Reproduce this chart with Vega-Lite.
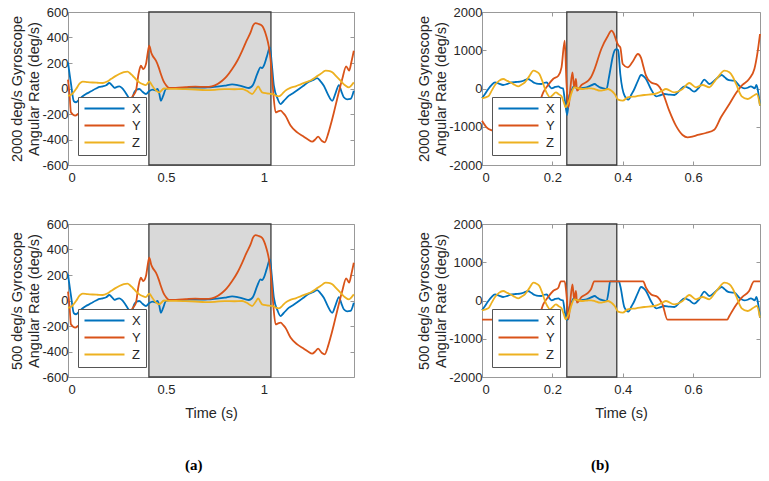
{
  "$schema": "https://vega.github.io/schema/vega-lite/v6.json",
  "padding": {"left": 9, "top": 5, "right": 5, "bottom": 5},
  "datasets": {
    "a": [
      {"s":"X","t":0,"v":205},{"s":"X","t":0.015,"v":40},{"s":"X","t":0.03,"v":-100},{"s":"X","t":0.041,"v":-108},{"s":"X","t":0.055,"v":-90},{"s":"X","t":0.075,"v":-61},{"s":"X","t":0.09,"v":-45},{"s":"X","t":0.109,"v":-30},{"s":"X","t":0.125,"v":-15},{"s":"X","t":0.143,"v":0},{"s":"X","t":0.16,"v":12},{"s":"X","t":0.177,"v":17},{"s":"X","t":0.195,"v":25},{"s":"X","t":0.211,"v":43},{"s":"X","t":0.225,"v":25},{"s":"X","t":0.236,"v":6},{"s":"X","t":0.25,"v":12},{"s":"X","t":0.262,"v":17},{"s":"X","t":0.275,"v":5},{"s":"X","t":0.287,"v":-17},{"s":"X","t":0.305,"v":-60},{"s":"X","t":0.321,"v":-96},{"s":"X","t":0.33,"v":-70},{"s":"X","t":0.338,"v":-30},{"s":"X","t":0.35,"v":-10},{"s":"X","t":0.364,"v":-4},{"s":"X","t":0.38,"v":-25},{"s":"X","t":0.398,"v":-43},{"s":"X","t":0.415,"v":-20},{"s":"X","t":0.432,"v":-9},{"s":"X","t":0.445,"v":-15},{"s":"X","t":0.457,"v":-4},{"s":"X","t":0.466,"v":-40},{"s":"X","t":0.474,"v":-96},{"s":"X","t":0.485,"v":-60},{"s":"X","t":0.5,"v":-4},{"s":"X","t":0.52,"v":3},{"s":"X","t":0.55,"v":3},{"s":"X","t":0.6,"v":5},{"s":"X","t":0.65,"v":8},{"s":"X","t":0.7,"v":7},{"s":"X","t":0.719,"v":9},{"s":"X","t":0.76,"v":14},{"s":"X","t":0.8,"v":22},{"s":"X","t":0.838,"v":33},{"s":"X","t":0.87,"v":25},{"s":"X","t":0.9,"v":12},{"s":"X","t":0.923,"v":4},{"s":"X","t":0.945,"v":30},{"s":"X","t":0.965,"v":110},{"s":"X","t":0.983,"v":166},{"s":"X","t":0.992,"v":160},{"s":"X","t":1.0,"v":180},{"s":"X","t":1.015,"v":250},{"s":"X","t":1.031,"v":323},{"s":"X","t":1.04,"v":200},{"s":"X","t":1.051,"v":22},{"s":"X","t":1.07,"v":-80},{"s":"X","t":1.085,"v":-122},{"s":"X","t":1.1,"v":-100},{"s":"X","t":1.128,"v":-56},{"s":"X","t":1.15,"v":-35},{"s":"X","t":1.179,"v":-4},{"s":"X","t":1.2,"v":20},{"s":"X","t":1.23,"v":54},{"s":"X","t":1.25,"v":65},{"s":"X","t":1.272,"v":82},{"s":"X","t":1.29,"v":55},{"s":"X","t":1.306,"v":22},{"s":"X","t":1.325,"v":-40},{"s":"X","t":1.349,"v":-96},{"s":"X","t":1.365,"v":-40},{"s":"X","t":1.383,"v":27},{"s":"X","t":1.395,"v":-20},{"s":"X","t":1.408,"v":-69},{"s":"X","t":1.425,"v":-85},{"s":"X","t":1.442,"v":-82},{"s":"X","t":1.459,"v":-17},
      {"s":"Y","t":0,"v":70},{"s":"Y","t":0.008,"v":-50},{"s":"Y","t":0.015,"v":-187},{"s":"Y","t":0.037,"v":-213},{"s":"Y","t":0.055,"v":-195},{"s":"Y","t":0.075,"v":-174},{"s":"Y","t":0.1,"v":-190},{"s":"Y","t":0.15,"v":-210},{"s":"Y","t":0.2,"v":-230},{"s":"Y","t":0.25,"v":-235},{"s":"Y","t":0.285,"v":-200},{"s":"Y","t":0.313,"v":-111},{"s":"Y","t":0.33,"v":-60},{"s":"Y","t":0.347,"v":-17},{"s":"Y","t":0.36,"v":114},{"s":"Y","t":0.372,"v":179},{"s":"Y","t":0.384,"v":153},{"s":"Y","t":0.398,"v":192},{"s":"Y","t":0.407,"v":280},{"s":"Y","t":0.415,"v":336},{"s":"Y","t":0.425,"v":280},{"s":"Y","t":0.432,"v":257},{"s":"Y","t":0.449,"v":218},{"s":"Y","t":0.462,"v":170},{"s":"Y","t":0.474,"v":114},{"s":"Y","t":0.487,"v":60},{"s":"Y","t":0.5,"v":27},{"s":"Y","t":0.517,"v":4},{"s":"Y","t":0.55,"v":5},{"s":"Y","t":0.6,"v":10},{"s":"Y","t":0.65,"v":15},{"s":"Y","t":0.7,"v":12},{"s":"Y","t":0.719,"v":13},{"s":"Y","t":0.75,"v":25},{"s":"Y","t":0.787,"v":61},{"s":"Y","t":0.81,"v":95},{"s":"Y","t":0.838,"v":153},{"s":"Y","t":0.865,"v":220},{"s":"Y","t":0.889,"v":296},{"s":"Y","t":0.91,"v":370},{"s":"Y","t":0.932,"v":440},{"s":"Y","t":0.945,"v":495},{"s":"Y","t":0.957,"v":513},{"s":"Y","t":0.975,"v":505},{"s":"Y","t":0.991,"v":492},{"s":"Y","t":1.002,"v":460},{"s":"Y","t":1.012,"v":414},{"s":"Y","t":1.025,"v":330},{"s":"Y","t":1.034,"v":231},{"s":"Y","t":1.045,"v":20},{"s":"Y","t":1.06,"v":-187},{"s":"Y","t":1.072,"v":-180},{"s":"Y","t":1.085,"v":-174},{"s":"Y","t":1.1,"v":-195},{"s":"Y","t":1.11,"v":-213},{"s":"Y","t":1.136,"v":-291},{"s":"Y","t":1.17,"v":-344},{"s":"Y","t":1.204,"v":-378},{"s":"Y","t":1.225,"v":-400},{"s":"Y","t":1.247,"v":-417},{"s":"Y","t":1.262,"v":-400},{"s":"Y","t":1.277,"v":-378},{"s":"Y","t":1.295,"v":-410},{"s":"Y","t":1.311,"v":-422},{"s":"Y","t":1.325,"v":-370},{"s":"Y","t":1.34,"v":-291},{"s":"Y","t":1.357,"v":-190},{"s":"Y","t":1.374,"v":-82},{"s":"Y","t":1.4,"v":74},{"s":"Y","t":1.42,"v":174},{"s":"Y","t":1.435,"v":140},{"s":"Y","t":1.447,"v":210},{"s":"Y","t":1.459,"v":296},
      {"s":"Z","t":0,"v":-57},{"s":"Z","t":0.02,"v":-45},{"s":"Z","t":0.041,"v":-4},{"s":"Z","t":0.06,"v":40},{"s":"Z","t":0.075,"v":54},{"s":"Z","t":0.1,"v":50},{"s":"Z","t":0.126,"v":47},{"s":"Z","t":0.15,"v":45},{"s":"Z","t":0.177,"v":43},{"s":"Z","t":0.2,"v":55},{"s":"Z","t":0.219,"v":74},{"s":"Z","t":0.24,"v":95},{"s":"Z","t":0.262,"v":114},{"s":"Z","t":0.285,"v":128},{"s":"Z","t":0.304,"v":132},{"s":"Z","t":0.318,"v":118},{"s":"Z","t":0.33,"v":100},{"s":"Z","t":0.347,"v":72},{"s":"Z","t":0.364,"v":48},{"s":"Z","t":0.38,"v":35},{"s":"Z","t":0.398,"v":27},{"s":"Z","t":0.415,"v":54},{"s":"Z","t":0.427,"v":30},{"s":"Z","t":0.44,"v":0},{"s":"Z","t":0.466,"v":-30},{"s":"Z","t":0.49,"v":0},{"s":"Z","t":0.52,"v":-3},{"s":"Z","t":0.55,"v":-3},{"s":"Z","t":0.6,"v":-5},{"s":"Z","t":0.65,"v":-8},{"s":"Z","t":0.7,"v":-12},{"s":"Z","t":0.75,"v":-10},{"s":"Z","t":0.8,"v":-5},{"s":"Z","t":0.85,"v":-6},{"s":"Z","t":0.889,"v":-4},{"s":"Z","t":0.915,"v":-20},{"s":"Z","t":0.94,"v":-43},{"s":"Z","t":0.958,"v":-10},{"s":"Z","t":0.971,"v":17},{"s":"Z","t":0.98,"v":-5},{"s":"Z","t":0.991,"v":-30},{"s":"Z","t":1.015,"v":-38},{"s":"Z","t":1.042,"v":-43},{"s":"Z","t":1.06,"v":-55},{"s":"Z","t":1.077,"v":-61},{"s":"Z","t":1.095,"v":-40},{"s":"Z","t":1.11,"v":-17},{"s":"Z","t":1.135,"v":5},{"s":"Z","t":1.162,"v":17},{"s":"Z","t":1.19,"v":35},{"s":"Z","t":1.213,"v":48},{"s":"Z","t":1.24,"v":65},{"s":"Z","t":1.264,"v":88},{"s":"Z","t":1.29,"v":115},{"s":"Z","t":1.315,"v":140},{"s":"Z","t":1.33,"v":138},{"s":"Z","t":1.349,"v":127},{"s":"Z","t":1.37,"v":95},{"s":"Z","t":1.391,"v":61},{"s":"Z","t":1.41,"v":30},{"s":"Z","t":1.434,"v":9},{"s":"Z","t":1.447,"v":25},{"s":"Z","t":1.459,"v":48}
    ],
    "b": [
      {"s":"X","t":0,"v":-257},{"s":"X","t":0.008,"v":-150},{"s":"X","t":0.018,"v":-13},{"s":"X","t":0.027,"v":90},{"s":"X","t":0.037,"v":162},{"s":"X","t":0.048,"v":130},{"s":"X","t":0.06,"v":92},{"s":"X","t":0.072,"v":120},{"s":"X","t":0.084,"v":162},{"s":"X","t":0.096,"v":170},{"s":"X","t":0.108,"v":178},{"s":"X","t":0.12,"v":210},{"s":"X","t":0.131,"v":248},{"s":"X","t":0.14,"v":200},{"s":"X","t":0.15,"v":144},{"s":"X","t":0.16,"v":120},{"s":"X","t":0.169,"v":118},{"s":"X","t":0.177,"v":150},{"s":"X","t":0.184,"v":162},{"s":"X","t":0.19,"v":80},{"s":"X","t":0.198,"v":5},{"s":"X","t":0.208,"v":40},{"s":"X","t":0.217,"v":57},{"s":"X","t":0.223,"v":20},{"s":"X","t":0.23,"v":5},{"s":"X","t":0.235,"v":-275},{"s":"X","t":0.242,"v":-693},{"s":"X","t":0.248,"v":-188},{"s":"X","t":0.254,"v":-57},{"s":"X","t":0.261,"v":57},{"s":"X","t":0.267,"v":20},{"s":"X","t":0.273,"v":5},{"s":"X","t":0.285,"v":15},{"s":"X","t":0.297,"v":31},{"s":"X","t":0.31,"v":80},{"s":"X","t":0.32,"v":118},{"s":"X","t":0.328,"v":70},{"s":"X","t":0.335,"v":31},{"s":"X","t":0.345,"v":5},{"s":"X","t":0.354,"v":-13},{"s":"X","t":0.36,"v":250},{"s":"X","t":0.365,"v":510},{"s":"X","t":0.372,"v":850},{"s":"X","t":0.378,"v":1010},{"s":"X","t":0.383,"v":1030},{"s":"X","t":0.387,"v":1000},{"s":"X","t":0.393,"v":379},{"s":"X","t":0.405,"v":-188},{"s":"X","t":0.416,"v":-292},{"s":"X","t":0.425,"v":-150},{"s":"X","t":0.433,"v":-13},{"s":"X","t":0.443,"v":200},{"s":"X","t":0.452,"v":353},{"s":"X","t":0.459,"v":320},{"s":"X","t":0.466,"v":248},{"s":"X","t":0.48,"v":-13},{"s":"X","t":0.495,"v":-204},{"s":"X","t":0.505,"v":-180},{"s":"X","t":0.518,"v":-144},{"s":"X","t":0.532,"v":-160},{"s":"X","t":0.547,"v":-170},{"s":"X","t":0.561,"v":-57},{"s":"X","t":0.575,"v":57},{"s":"X","t":0.589,"v":5},{"s":"X","t":0.603,"v":-83},{"s":"X","t":0.617,"v":31},{"s":"X","t":0.632,"v":231},{"s":"X","t":0.646,"v":118},{"s":"X","t":0.66,"v":205},{"s":"X","t":0.672,"v":300},{"s":"X","t":0.681,"v":353},{"s":"X","t":0.69,"v":290},{"s":"X","t":0.698,"v":231},{"s":"X","t":0.707,"v":210},{"s":"X","t":0.717,"v":205},{"s":"X","t":0.731,"v":74},{"s":"X","t":0.745,"v":5},{"s":"X","t":0.755,"v":20},{"s":"X","t":0.764,"v":57},{"s":"X","t":0.775,"v":5},{"s":"X","t":0.78,"v":92},{"s":"X","t":0.785,"v":-100},{"s":"X","t":0.79,"v":-449},
      {"s":"Y","t":0,"v":-841},{"s":"Y","t":0.013,"v":-1015},{"s":"Y","t":0.03,"v":-1102},{"s":"Y","t":0.05,"v":-1150},{"s":"Y","t":0.08,"v":-1120},{"s":"Y","t":0.11,"v":-950},{"s":"Y","t":0.13,"v":-760},{"s":"Y","t":0.147,"v":-600},{"s":"Y","t":0.16,"v":-449},{"s":"Y","t":0.174,"v":-100},{"s":"Y","t":0.188,"v":92},{"s":"Y","t":0.202,"v":248},{"s":"Y","t":0.217,"v":335},{"s":"Y","t":0.226,"v":554},{"s":"Y","t":0.235,"v":1250},{"s":"Y","t":0.24,"v":162},{"s":"Y","t":0.246,"v":-491},{"s":"Y","t":0.251,"v":-13},{"s":"Y","t":0.257,"v":423},{"s":"Y","t":0.262,"v":31},{"s":"Y","t":0.267,"v":248},{"s":"Y","t":0.27,"v":-57},{"s":"Y","t":0.283,"v":92},{"s":"Y","t":0.302,"v":205},{"s":"Y","t":0.31,"v":300},{"s":"Y","t":0.32,"v":510},{"s":"Y","t":0.339,"v":1033},{"s":"Y","t":0.358,"v":1381},{"s":"Y","t":0.368,"v":1511},{"s":"Y","t":0.374,"v":1450},{"s":"Y","t":0.38,"v":1294},{"s":"Y","t":0.387,"v":1137},{"s":"Y","t":0.393,"v":1077},{"s":"Y","t":0.4,"v":640},{"s":"Y","t":0.414,"v":554},{"s":"Y","t":0.428,"v":700},{"s":"Y","t":0.443,"v":902},{"s":"Y","t":0.452,"v":800},{"s":"Y","t":0.459,"v":560},{"s":"Y","t":0.466,"v":335},{"s":"Y","t":0.48,"v":162},{"s":"Y","t":0.499,"v":92},{"s":"Y","t":0.513,"v":-100},{"s":"Y","t":0.532,"v":-580},{"s":"Y","t":0.551,"v":-972},{"s":"Y","t":0.57,"v":-1215},{"s":"Y","t":0.584,"v":-1276},{"s":"Y","t":0.6,"v":-1250},{"s":"Y","t":0.613,"v":-1215},{"s":"Y","t":0.636,"v":-1163},{"s":"Y","t":0.66,"v":-1077},{"s":"Y","t":0.679,"v":-753},{"s":"Y","t":0.703,"v":-405},{"s":"Y","t":0.722,"v":-118},{"s":"Y","t":0.74,"v":92},{"s":"Y","t":0.759,"v":248},{"s":"Y","t":0.774,"v":510},{"s":"Y","t":0.783,"v":946},{"s":"Y","t":0.79,"v":1425},
      {"s":"Z","t":0,"v":-257},{"s":"Z","t":0.018,"v":-204},{"s":"Z","t":0.028,"v":-50},{"s":"Z","t":0.037,"v":92},{"s":"Z","t":0.048,"v":200},{"s":"Z","t":0.06,"v":248},{"s":"Z","t":0.072,"v":200},{"s":"Z","t":0.084,"v":144},{"s":"Z","t":0.094,"v":90},{"s":"Z","t":0.103,"v":57},{"s":"Z","t":0.112,"v":100},{"s":"Z","t":0.122,"v":162},{"s":"Z","t":0.135,"v":330},{"s":"Z","t":0.146,"v":466},{"s":"Z","t":0.155,"v":440},{"s":"Z","t":0.163,"v":379},{"s":"Z","t":0.172,"v":180},{"s":"Z","t":0.179,"v":-13},{"s":"Z","t":0.186,"v":-150},{"s":"Z","t":0.193,"v":-231},{"s":"Z","t":0.2,"v":-180},{"s":"Z","t":0.21,"v":-100},{"s":"Z","t":0.218,"v":-150},{"s":"Z","t":0.226,"v":-204},{"s":"Z","t":0.232,"v":-350},{"s":"Z","t":0.238,"v":-491},{"s":"Z","t":0.243,"v":-420},{"s":"Z","t":0.248,"v":-318},{"s":"Z","t":0.255,"v":-100},{"s":"Z","t":0.262,"v":31},{"s":"Z","t":0.275,"v":0},{"s":"Z","t":0.287,"v":-13},{"s":"Z","t":0.3,"v":0},{"s":"Z","t":0.31,"v":5},{"s":"Z","t":0.322,"v":-20},{"s":"Z","t":0.335,"v":-57},{"s":"Z","t":0.347,"v":-40},{"s":"Z","t":0.358,"v":-13},{"s":"Z","t":0.368,"v":-60},{"s":"Z","t":0.377,"v":-144},{"s":"Z","t":0.387,"v":-292},{"s":"Z","t":0.4,"v":-318},{"s":"Z","t":0.414,"v":-231},{"s":"Z","t":0.438,"v":-204},{"s":"Z","t":0.461,"v":-170},{"s":"Z","t":0.49,"v":-144},{"s":"Z","t":0.51,"v":-70},{"s":"Z","t":0.523,"v":-13},{"s":"Z","t":0.546,"v":-100},{"s":"Z","t":0.57,"v":-13},{"s":"Z","t":0.589,"v":144},{"s":"Z","t":0.608,"v":31},{"s":"Z","t":0.627,"v":92},{"s":"Z","t":0.646,"v":31},{"s":"Z","t":0.658,"v":150},{"s":"Z","t":0.67,"v":292},{"s":"Z","t":0.689,"v":466},{"s":"Z","t":0.703,"v":423},{"s":"Z","t":0.713,"v":300},{"s":"Z","t":0.722,"v":118},{"s":"Z","t":0.738,"v":-204},{"s":"Z","t":0.755,"v":-275},{"s":"Z","t":0.769,"v":-204},{"s":"Z","t":0.781,"v":-144},{"s":"Z","t":0.79,"v":-449}
    ],
    "b500": [
      {"s":"X","t":0,"v":-257},{"s":"X","t":0.008,"v":-150},{"s":"X","t":0.018,"v":-13},{"s":"X","t":0.027,"v":90},{"s":"X","t":0.037,"v":162},{"s":"X","t":0.048,"v":130},{"s":"X","t":0.06,"v":92},{"s":"X","t":0.072,"v":120},{"s":"X","t":0.084,"v":162},{"s":"X","t":0.096,"v":170},{"s":"X","t":0.108,"v":178},{"s":"X","t":0.12,"v":210},{"s":"X","t":0.131,"v":248},{"s":"X","t":0.14,"v":200},{"s":"X","t":0.15,"v":144},{"s":"X","t":0.16,"v":120},{"s":"X","t":0.169,"v":118},{"s":"X","t":0.177,"v":150},{"s":"X","t":0.184,"v":162},{"s":"X","t":0.19,"v":80},{"s":"X","t":0.198,"v":5},{"s":"X","t":0.208,"v":40},{"s":"X","t":0.217,"v":57},{"s":"X","t":0.223,"v":20},{"s":"X","t":0.23,"v":5},{"s":"X","t":0.235,"v":-275},{"s":"X","t":0.24,"v":-500},{"s":"X","t":0.244,"v":-500},{"s":"X","t":0.248,"v":-188},{"s":"X","t":0.254,"v":-57},{"s":"X","t":0.261,"v":57},{"s":"X","t":0.267,"v":20},{"s":"X","t":0.273,"v":5},{"s":"X","t":0.285,"v":15},{"s":"X","t":0.297,"v":31},{"s":"X","t":0.31,"v":80},{"s":"X","t":0.32,"v":118},{"s":"X","t":0.328,"v":70},{"s":"X","t":0.335,"v":31},{"s":"X","t":0.345,"v":5},{"s":"X","t":0.354,"v":-13},{"s":"X","t":0.36,"v":250},{"s":"X","t":0.364,"v":500},{"s":"X","t":0.372,"v":500},{"s":"X","t":0.38,"v":500},{"s":"X","t":0.389,"v":500},{"s":"X","t":0.393,"v":379},{"s":"X","t":0.405,"v":-188},{"s":"X","t":0.416,"v":-292},{"s":"X","t":0.425,"v":-150},{"s":"X","t":0.433,"v":-13},{"s":"X","t":0.443,"v":200},{"s":"X","t":0.452,"v":353},{"s":"X","t":0.459,"v":320},{"s":"X","t":0.466,"v":248},{"s":"X","t":0.48,"v":-13},{"s":"X","t":0.495,"v":-204},{"s":"X","t":0.505,"v":-180},{"s":"X","t":0.518,"v":-144},{"s":"X","t":0.532,"v":-160},{"s":"X","t":0.547,"v":-170},{"s":"X","t":0.561,"v":-57},{"s":"X","t":0.575,"v":57},{"s":"X","t":0.589,"v":5},{"s":"X","t":0.603,"v":-83},{"s":"X","t":0.617,"v":31},{"s":"X","t":0.632,"v":231},{"s":"X","t":0.646,"v":118},{"s":"X","t":0.66,"v":205},{"s":"X","t":0.672,"v":300},{"s":"X","t":0.681,"v":353},{"s":"X","t":0.69,"v":290},{"s":"X","t":0.698,"v":231},{"s":"X","t":0.707,"v":210},{"s":"X","t":0.717,"v":205},{"s":"X","t":0.731,"v":74},{"s":"X","t":0.745,"v":5},{"s":"X","t":0.755,"v":20},{"s":"X","t":0.764,"v":57},{"s":"X","t":0.775,"v":5},{"s":"X","t":0.78,"v":92},{"s":"X","t":0.785,"v":-100},{"s":"X","t":0.79,"v":-449},
      {"s":"Y","t":0,"v":-500},{"s":"Y","t":0.03,"v":-500},{"s":"Y","t":0.08,"v":-500},{"s":"Y","t":0.13,"v":-500},{"s":"Y","t":0.147,"v":-500},{"s":"Y","t":0.16,"v":-449},{"s":"Y","t":0.174,"v":-100},{"s":"Y","t":0.188,"v":92},{"s":"Y","t":0.202,"v":248},{"s":"Y","t":0.217,"v":335},{"s":"Y","t":0.224,"v":500},{"s":"Y","t":0.235,"v":500},{"s":"Y","t":0.24,"v":162},{"s":"Y","t":0.246,"v":-491},{"s":"Y","t":0.251,"v":-13},{"s":"Y","t":0.257,"v":423},{"s":"Y","t":0.262,"v":31},{"s":"Y","t":0.267,"v":248},{"s":"Y","t":0.27,"v":-57},{"s":"Y","t":0.283,"v":92},{"s":"Y","t":0.302,"v":205},{"s":"Y","t":0.31,"v":300},{"s":"Y","t":0.319,"v":500},{"s":"Y","t":0.339,"v":500},{"s":"Y","t":0.36,"v":500},{"s":"Y","t":0.38,"v":500},{"s":"Y","t":0.4,"v":500},{"s":"Y","t":0.43,"v":500},{"s":"Y","t":0.458,"v":500},{"s":"Y","t":0.466,"v":335},{"s":"Y","t":0.48,"v":162},{"s":"Y","t":0.499,"v":92},{"s":"Y","t":0.513,"v":-100},{"s":"Y","t":0.527,"v":-500},{"s":"Y","t":0.55,"v":-500},{"s":"Y","t":0.6,"v":-500},{"s":"Y","t":0.65,"v":-500},{"s":"Y","t":0.697,"v":-500},{"s":"Y","t":0.703,"v":-405},{"s":"Y","t":0.722,"v":-118},{"s":"Y","t":0.74,"v":92},{"s":"Y","t":0.759,"v":248},{"s":"Y","t":0.773,"v":500},{"s":"Y","t":0.783,"v":500},{"s":"Y","t":0.79,"v":500},
      {"s":"Z","t":0,"v":-257},{"s":"Z","t":0.018,"v":-204},{"s":"Z","t":0.028,"v":-50},{"s":"Z","t":0.037,"v":92},{"s":"Z","t":0.048,"v":200},{"s":"Z","t":0.06,"v":248},{"s":"Z","t":0.072,"v":200},{"s":"Z","t":0.084,"v":144},{"s":"Z","t":0.094,"v":90},{"s":"Z","t":0.103,"v":57},{"s":"Z","t":0.112,"v":100},{"s":"Z","t":0.122,"v":162},{"s":"Z","t":0.135,"v":330},{"s":"Z","t":0.146,"v":466},{"s":"Z","t":0.155,"v":440},{"s":"Z","t":0.163,"v":379},{"s":"Z","t":0.172,"v":180},{"s":"Z","t":0.179,"v":-13},{"s":"Z","t":0.186,"v":-150},{"s":"Z","t":0.193,"v":-231},{"s":"Z","t":0.2,"v":-180},{"s":"Z","t":0.21,"v":-100},{"s":"Z","t":0.218,"v":-150},{"s":"Z","t":0.226,"v":-204},{"s":"Z","t":0.232,"v":-350},{"s":"Z","t":0.238,"v":-491},{"s":"Z","t":0.243,"v":-420},{"s":"Z","t":0.248,"v":-318},{"s":"Z","t":0.255,"v":-100},{"s":"Z","t":0.262,"v":31},{"s":"Z","t":0.275,"v":0},{"s":"Z","t":0.287,"v":-13},{"s":"Z","t":0.3,"v":0},{"s":"Z","t":0.31,"v":5},{"s":"Z","t":0.322,"v":-20},{"s":"Z","t":0.335,"v":-57},{"s":"Z","t":0.347,"v":-40},{"s":"Z","t":0.358,"v":-13},{"s":"Z","t":0.368,"v":-60},{"s":"Z","t":0.377,"v":-144},{"s":"Z","t":0.387,"v":-292},{"s":"Z","t":0.4,"v":-318},{"s":"Z","t":0.414,"v":-231},{"s":"Z","t":0.438,"v":-204},{"s":"Z","t":0.461,"v":-170},{"s":"Z","t":0.49,"v":-144},{"s":"Z","t":0.51,"v":-70},{"s":"Z","t":0.523,"v":-13},{"s":"Z","t":0.546,"v":-100},{"s":"Z","t":0.57,"v":-13},{"s":"Z","t":0.589,"v":144},{"s":"Z","t":0.608,"v":31},{"s":"Z","t":0.627,"v":92},{"s":"Z","t":0.646,"v":31},{"s":"Z","t":0.658,"v":150},{"s":"Z","t":0.67,"v":292},{"s":"Z","t":0.689,"v":466},{"s":"Z","t":0.703,"v":423},{"s":"Z","t":0.713,"v":300},{"s":"Z","t":0.722,"v":118},{"s":"Z","t":0.738,"v":-204},{"s":"Z","t":0.755,"v":-275},{"s":"Z","t":0.769,"v":-204},{"s":"Z","t":0.781,"v":-144},{"s":"Z","t":0.79,"v":-449}
    ]
  },
  "columns": 2,
  "spacing": {"row": 32, "column": 58},
  "concat": [
    {
      "width": 286, "height": 153,
      "resolve": {"axis": {"x": "independent", "y": "independent"}},
      "layer": [
        {
          "data": {"values": [{"start": 0.413, "end": 1.036}]},
          "mark": {"type": "rect", "fill": "#d9d9d9", "stroke": "#3c3c3c", "strokeWidth": 1.3},
          "encoding": {
            "x": {"field": "start", "type": "quantitative", "scale": {"domain": [0, 1.46], "nice": false, "zero": false}, "axis": null},
            "x2": {"field": "end"}
          }
        },
        {
          "data": {"name": "a"},
          "mark": {"type": "line", "strokeWidth": 1.8, "interpolate": "monotone"},
          "encoding": {
            "x": {"field": "t", "type": "quantitative", "axis": {"values": [0, 0.5, 1], "format": "~g", "title": null}},
            "y": {"field": "v", "type": "quantitative", "scale": {"domain": [-600, 600], "nice": false}, "axis": {"values": [-600, -400, -200, 0, 200, 400, 600], "title": ["2000 deg/s Gyroscope", "Angular Rate (deg/s)"]}},
            "color": {"field": "s", "type": "nominal", "scale": {"domain": ["X", "Y", "Z"], "range": ["#0072BD", "#D95319", "#EDB120"]}, "legend": {"title": null}}
          }
        },
        {
          "mark": {"type": "rule", "opacity": 0},
          "encoding": {"y": {"datum": 0, "type": "quantitative", "axis": {"orient": "right", "values": [-600, -400, -200, 0, 200, 400, 600], "labels": false, "title": null}}}
        },
        {
          "mark": {"type": "rule", "opacity": 0},
          "encoding": {"x": {"datum": 0, "type": "quantitative", "axis": {"orient": "top", "values": [0, 0.5, 1], "labels": false, "title": null}}}
        }
      ]
    },
    {
      "width": 278, "height": 153,
      "resolve": {"axis": {"x": "independent", "y": "independent"}},
      "layer": [
        {
          "data": {"values": [{"start": 0.241, "end": 0.383}]},
          "mark": {"type": "rect", "fill": "#d9d9d9", "stroke": "#3c3c3c", "strokeWidth": 1.3},
          "encoding": {
            "x": {"field": "start", "type": "quantitative", "scale": {"domain": [0, 0.79], "nice": false, "zero": false}, "axis": null},
            "x2": {"field": "end"}
          }
        },
        {
          "data": {"name": "b"},
          "mark": {"type": "line", "strokeWidth": 1.8, "interpolate": "monotone"},
          "encoding": {
            "x": {"field": "t", "type": "quantitative", "axis": {"values": [0, 0.2, 0.4, 0.6], "format": "~g", "title": null}},
            "y": {"field": "v", "type": "quantitative", "scale": {"domain": [-2000, 2000], "nice": false}, "axis": {"values": [-2000, -1000, 0, 1000, 2000], "title": ["2000 deg/s Gyroscope", "Angular Rate (deg/s)"]}},
            "color": {"field": "s", "type": "nominal", "scale": {"domain": ["X", "Y", "Z"], "range": ["#0072BD", "#D95319", "#EDB120"]}, "legend": {"title": null}}
          }
        },
        {
          "mark": {"type": "rule", "opacity": 0},
          "encoding": {"y": {"datum": 0, "type": "quantitative", "axis": {"orient": "right", "values": [-2000, -1000, 0, 1000, 2000], "labels": false, "title": null}}}
        },
        {
          "mark": {"type": "rule", "opacity": 0},
          "encoding": {"x": {"datum": 0, "type": "quantitative", "axis": {"orient": "top", "values": [0, 0.2, 0.4, 0.6], "labels": false, "title": null}}}
        }
      ]
    },
    {
      "width": 286, "height": 153,
      "title": {"text": "(a)", "orient": "bottom", "anchor": "middle", "frame": "bounds", "dx": 10, "offset": 38, "font": "Liberation Serif", "fontSize": 15, "fontWeight": "bold", "color": "#000000"},
      "resolve": {"axis": {"x": "independent", "y": "independent"}},
      "layer": [
        {
          "data": {"values": [{"start": 0.413, "end": 1.036}]},
          "mark": {"type": "rect", "fill": "#d9d9d9", "stroke": "#3c3c3c", "strokeWidth": 1.3},
          "encoding": {
            "x": {"field": "start", "type": "quantitative", "scale": {"domain": [0, 1.46], "nice": false, "zero": false}, "axis": null},
            "x2": {"field": "end"}
          }
        },
        {
          "data": {"name": "a"},
          "mark": {"type": "line", "strokeWidth": 1.8, "interpolate": "monotone"},
          "encoding": {
            "x": {"field": "t", "type": "quantitative", "axis": {"values": [0, 0.5, 1], "format": "~g", "title": "Time (s)"}},
            "y": {"field": "v", "type": "quantitative", "scale": {"domain": [-600, 600], "nice": false}, "axis": {"values": [-600, -400, -200, 0, 200, 400, 600], "title": ["500 deg/s Gyroscope", "Angular Rate (deg/s)"]}},
            "color": {"field": "s", "type": "nominal", "scale": {"domain": ["X", "Y", "Z"], "range": ["#0072BD", "#D95319", "#EDB120"]}, "legend": {"title": null}}
          }
        },
        {
          "mark": {"type": "rule", "opacity": 0},
          "encoding": {"y": {"datum": 0, "type": "quantitative", "axis": {"orient": "right", "values": [-600, -400, -200, 0, 200, 400, 600], "labels": false, "title": null}}}
        },
        {
          "mark": {"type": "rule", "opacity": 0},
          "encoding": {"x": {"datum": 0, "type": "quantitative", "axis": {"orient": "top", "values": [0, 0.5, 1], "labels": false, "title": null}}}
        }
      ]
    },
    {
      "width": 278, "height": 153,
      "title": {"text": "(b)", "orient": "bottom", "anchor": "middle", "frame": "bounds", "dx": 10, "offset": 38, "font": "Liberation Serif", "fontSize": 15, "fontWeight": "bold", "color": "#000000"},
      "resolve": {"axis": {"x": "independent", "y": "independent"}},
      "layer": [
        {
          "data": {"values": [{"start": 0.241, "end": 0.383}]},
          "mark": {"type": "rect", "fill": "#d9d9d9", "stroke": "#3c3c3c", "strokeWidth": 1.3},
          "encoding": {
            "x": {"field": "start", "type": "quantitative", "scale": {"domain": [0, 0.79], "nice": false, "zero": false}, "axis": null},
            "x2": {"field": "end"}
          }
        },
        {
          "data": {"name": "b500"},
          "mark": {"type": "line", "strokeWidth": 1.8, "interpolate": "monotone"},
          "encoding": {
            "x": {"field": "t", "type": "quantitative", "axis": {"values": [0, 0.2, 0.4, 0.6], "format": "~g", "title": "Time (s)"}},
            "y": {"field": "v", "type": "quantitative", "scale": {"domain": [-2000, 2000], "nice": false}, "axis": {"values": [-2000, -1000, 0, 1000, 2000], "title": ["500 deg/s Gyroscope", "Angular Rate (deg/s)"]}},
            "color": {"field": "s", "type": "nominal", "scale": {"domain": ["X", "Y", "Z"], "range": ["#0072BD", "#D95319", "#EDB120"]}, "legend": {"title": null}}
          }
        },
        {
          "mark": {"type": "rule", "opacity": 0},
          "encoding": {"y": {"datum": 0, "type": "quantitative", "axis": {"orient": "right", "values": [-2000, -1000, 0, 1000, 2000], "labels": false, "title": null}}}
        },
        {
          "mark": {"type": "rule", "opacity": 0},
          "encoding": {"x": {"datum": 0, "type": "quantitative", "axis": {"orient": "top", "values": [0, 0.2, 0.4, 0.6], "labels": false, "title": null}}}
        }
      ]
    }
  ],
  "resolve": {
    "scale": {"x": "independent", "y": "independent", "color": "independent"},
    "legend": {"color": "independent"}
  },
  "config": {
    "font": "Liberation Sans",
    "view": {"stroke": "#999999", "strokeWidth": 1},
    "axis": {
      "grid": false,
      "domain": false,
      "tickColor": "#999999",
      "tickSize": -4,
      "labelFontSize": 13,
      "labelColor": "#262626",
      "titleFontSize": 14.5,
      "titleFontWeight": "normal",
      "titleColor": "#262626",
      "titleLineHeight": 17
    },
    "axisX": {"labelPadding": 10, "titlePadding": 10},
    "axisY": {"labelPadding": 4, "titlePadding": 0, "labelExpr": "datum.value + ''"},
    "legend": {
      "orient": "bottom-left",
      "offset": 10,
      "symbolType": "M-1,0H7",
      "symbolSize": 100,
      "symbolStrokeWidth": 2,
      "labelFontSize": 13,
      "labelColor": "#262626",
      "labelOffset": 36,
      "padding": 5,
      "rowPadding": 3,
      "strokeColor": "#555555",
      "fillColor": "#ffffff"
    }
  }
}
